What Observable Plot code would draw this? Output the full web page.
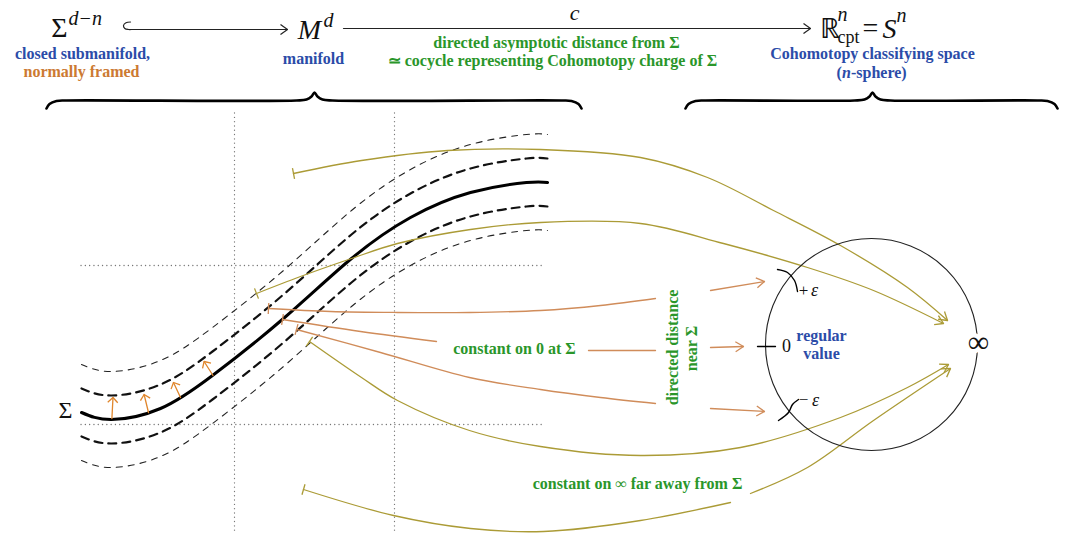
<!DOCTYPE html>
<html><head><meta charset="utf-8">
<script src="https://cdn.jsdelivr.net/npm/d3@7"></script>
<script src="https://cdn.jsdelivr.net/npm/@observablehq/plot@0.6"></script>
<style>body{margin:0;background:#fff;overflow:hidden}</style>
</head><body><div id="chart"></div>
<script>
// ---- diagram data (diagram units = pixels of the 1072x534 canvas) ----
const sigmaCurve = [[81,412],[111,419],[160,408],[212,375],[283,318],[351,258],[410,217],[470,192],[526,182],[547,182]];
const thickOffsets = [-24, 24];
const thinOffsets = [-48, 48];
const gridXs = [234, 394];
const gridYs = [265, 424];
const gridXSpan = [81, 544];
const gridYSpan = [113, 534];
const normalArrows = [[[111.4,418],[112.5,397]],[[148,412],[143.6,394]],[[180,397],[173,382]],[[212.5,375],[203.6,361]]];
const oliveCurves = [
  [[293,173],[361,160],[447,150],[540,149],[640,157],[707,177],[773,210],[840,245],[907,287],[947,320]],
  [[256,293],[300,276],[351,258],[397,243],[470,229],[540,222],[640,223],[723,243],[807,267],[873,290],[943,323]],
  [[309,341],[361,377],[397,400],[469,430],[540,446],[640,455],[740,447],[840,417],[907,387],[948,364]]
];
const oliveFarStart = [[303,489],[393,515],[470,528],[543,531],[640,520],[730,502]];
const oliveFarEnd = [[750,493],[807,467],[873,420],[950,368]];
const orangeIn = [
  [[268,308],[330,311],[397,312],[469,312],[540,310],[600,305],[655,298]],
  [[282,319],[360,331],[436,341]],
  [[296,329],[380,352],[469,377],[540,389],[600,397],[655,403]]
];
const orangeMid = [[588,350],[655,350]];
const orangeOut = [[[710,290],[764,281]],[[710,347],[743,346]],[[710,408],[764,411]]];
const circleCenter = [871,344];
const zeroTick = [[757,346],[775,346]];
const plusArc = [[777,269],[787,272],[794,280],[797,291]];
const minusArc = [[798,399],[792,404],[788,412],[778,420]];
const hook = [[130,21.5],[125.5,22.3],[123,25],[124.3,28],[128,29],[131,29]];
const headerArrows = [[[131,29],[287,29]],[[343,28],[810,28]]];
const braces = [
  [[46,108],[49,103.5],[56,100.5],[66,100],[296,100],[306,99],[311,96],[314,92],[317,96],[322,99],[332,100],[561,100],[571,100.5],[578,103.5],[581,108]],
  [[685,108],[688,103.5],[695,100.5],[705,100],[854,100],[864,99],[869,96],[872,92],[875,96],[880,99],[890,100],[1037,100],[1047,100.5],[1054,103.5],[1057,108]]
];
// ---- text ----
const mathUpright = [{text:"Σ",x:59,y:36},{text:"ℝ",x:829,y:37},{text:"=",x:870,y:36}];
const mathItalic = [{text:"M",x:309,y:38},{text:"S",x:889,y:37}];
const mathSmallItalic = [{text:"c",x:574,y:19}];
const mathSup = [{text:"d−n",x:68,y:24},{text:"d",x:323,y:26},{text:"n",x:837,y:20},{text:"n",x:896,y:21}];
const mathSub = [{text:"cpt",x:837,y:42}];
const blueLabels = [
  {text:"closed submanifold,",x:82,y:53},
  {text:"manifold",x:313,y:58},
  {text:"Cohomotopy classifying space",x:872,y:53},
  {text:"regular",x:821,y:335},
  {text:"value",x:821,y:353}
];
const blueSphereParts = [{text:"(",x:836,y:72,it:false},{text:"n",x:841.5,y:72,it:true},{text:"-sphere)",x:850.5,y:72,it:false}];
const orangeLabels = [{text:"normally framed",x:81,y:71}];
const greenLabels = [
  {text:"directed asymptotic distance from Σ",x:556,y:42},
  {text:"≃ cocycle representing Cohomotopy charge of Σ",x:552,y:60},
  {text:"constant on 0 at Σ",x:514,y:348},
  {text:"constant on ∞ far away from Σ",x:637,y:483}
];
const greenRotated = [{text:"directed distance",x:672,y:347},{text:"near Σ",x:691,y:348}];
const blackMath = [{text:"Σ",x:65,y:410,size:24},{text:"0",x:786,y:346,size:18},{text:"+",x:803,y:290,size:17},{text:"−",x:803,y:399,size:17}];
const epsLabels = [{text:"ε",x:814,y:290},{text:"ε",x:815,y:400}];
const infinity = [{text:"∞",x:978,y:342}];

// ---- helpers (geometry of heads/tails from the curve ends) ----
function heads(list, L, W) {
  const out = [];
  for (const c of list) {
    const [ax, ay] = c[c.length-2], [bx, by] = c[c.length-1];
    const n = Math.hypot(bx-ax, by-ay), ux = (bx-ax)/n, uy = (by-ay)/n;
    out.push({x1:bx,y1:by,x2:bx-L*ux+W*uy,y2:by-L*uy-W*ux});
    out.push({x1:bx,y1:by,x2:bx-L*ux-W*uy,y2:by-L*uy+W*ux});
  }
  return out;
}
function tails(list, W) {
  const out = [];
  for (const c of list) {
    const [ax, ay] = c[0], [bx, by] = c[1];
    const n = Math.hypot(bx-ax, by-ay), ux = (bx-ax)/n, uy = (by-ay)/n;
    out.push({x1:ax+W*uy,y1:ay-W*ux,x2:ax-W*uy,y2:ay+W*ux});
  }
  return out;
}
const X = d => d[0], Y = d => d[1];
const OLIVE = "#ab9b36", ORANGE = "#d08c5a", ORANGE2 = "#e0862c", GREEN = "#2a962a", BLUE = "#2b4ca8", SERIF = "Liberation Serif, Times New Roman, serif";
const LINK = {x1:"x1",y1:"y1",x2:"x2",y2:"y2"};

const marks = [];
// grid
marks.push(Plot.ruleX(gridXs.map(x => ({x, y1:gridYSpan[0], y2:gridYSpan[1]})), {x:"x", y1:"y1", y2:"y2", stroke:"#777", strokeWidth:1.3, strokeDasharray:"0.1,4.2", strokeLinecap:"round"}));
marks.push(Plot.ruleY(gridYs.map(y => ({y, x1:gridXSpan[0], x2:gridXSpan[1]})), {y:"y", x1:"x1", x2:"x2", stroke:"#777", strokeWidth:1.3, strokeDasharray:"0.1,4.2", strokeLinecap:"round"}));
// bands
for (const o of thinOffsets) marks.push(Plot.line(sigmaCurve.map(([x,y]) => [x, y+o]), {x:X, y:Y, curve:"natural", stroke:"#222", strokeWidth:1.1, strokeDasharray:"6,6"}));
for (const o of thickOffsets) marks.push(Plot.line(sigmaCurve.map(([x,y]) => [x, y+o]), {x:X, y:Y, curve:"natural", stroke:"#111", strokeWidth:2.2, strokeDasharray:"8,6"}));
marks.push(Plot.line(sigmaCurve, {x:X, y:Y, curve:"natural", stroke:"#000", strokeWidth:3}));
// normal arrows
for (const a of normalArrows) marks.push(Plot.line(a, {x:X, y:Y, stroke:ORANGE2, strokeWidth:1.3}));
marks.push(Plot.link(heads(normalArrows, 5, 5), {...LINK, stroke:ORANGE2, strokeWidth:1.3}));
// olive curves
for (const c of [...oliveCurves, oliveFarStart, oliveFarEnd]) marks.push(Plot.line(c, {x:X, y:Y, curve:"catmull-rom", stroke:OLIVE, strokeWidth:1.3}));
marks.push(Plot.link(tails([...oliveCurves, oliveFarStart], 5.5), {...LINK, stroke:OLIVE, strokeWidth:1.3}));
marks.push(Plot.link(heads([...oliveCurves, oliveFarEnd], 8, 5), {...LINK, stroke:OLIVE, strokeWidth:1.3}));
// orange curves
for (const c of [...orangeIn, orangeMid, ...orangeOut]) marks.push(Plot.line(c, {x:X, y:Y, curve:"catmull-rom", stroke:ORANGE, strokeWidth:1.3}));
marks.push(Plot.link(tails(orangeIn, 5.5), {...LINK, stroke:ORANGE, strokeWidth:1.3}));
marks.push(Plot.link(heads(orangeOut, 8, 5), {...LINK, stroke:ORANGE, strokeWidth:1.3}));
// circle
marks.push(Plot.dot([circleCenter], {x:X, y:Y, r:106, fill:"none", stroke:"#222", strokeWidth:1.1}));
marks.push(Plot.text(infinity, {x:"x", y:"y", text:"text", fontSize:30, fontFamily:SERIF, fill:"white", stroke:"white", strokeWidth:9}));
marks.push(Plot.line(zeroTick, {x:X, y:Y, stroke:"#000", strokeWidth:1.3}));
marks.push(Plot.line(plusArc, {x:X, y:Y, curve:"catmull-rom", stroke:"#000", strokeWidth:1.4}));
marks.push(Plot.line(minusArc, {x:X, y:Y, curve:"catmull-rom", stroke:"#000", strokeWidth:1.4}));
// header arrows and braces
marks.push(Plot.line(hook, {x:X, y:Y, curve:"catmull-rom", stroke:"#222", strokeWidth:1.2}));
for (const a of headerArrows) marks.push(Plot.line(a, {x:X, y:Y, stroke:"#222", strokeWidth:1.2}));
marks.push(Plot.link(heads(headerArrows, 7, 5), {...LINK, stroke:"#222", strokeWidth:1.2}));
for (const b of braces) marks.push(Plot.line(b, {x:X, y:Y, curve:"catmull-rom", stroke:"#000", strokeWidth:2.6}));
// texts
marks.push(Plot.text(mathUpright, {x:"x", y:"y", text:"text", fontSize:28, fontFamily:SERIF, lineAnchor:"bottom", fill:"#111"}));
marks.push(Plot.text(mathItalic, {x:"x", y:"y", text:"text", fontSize:28, fontStyle:"italic", fontFamily:SERIF, lineAnchor:"bottom", fill:"#111"}));
marks.push(Plot.text(mathSmallItalic, {x:"x", y:"y", text:"text", fontSize:22, fontStyle:"italic", fontFamily:SERIF, lineAnchor:"bottom", fill:"#111"}));
marks.push(Plot.text(mathSup, {x:"x", y:"y", text:"text", fontSize:20, fontStyle:"italic", fontFamily:SERIF, lineAnchor:"bottom", textAnchor:"start", fill:"#111"}));
marks.push(Plot.text(mathSub, {x:"x", y:"y", text:"text", fontSize:18, fontFamily:SERIF, lineAnchor:"bottom", textAnchor:"start", fill:"#111"}));
marks.push(Plot.text(blueLabels, {x:"x", y:"y", text:"text", fontSize:16, fontWeight:"bold", fontFamily:SERIF, fill:BLUE}));
marks.push(Plot.text(blueSphereParts.filter(d=>!d.it), {x:"x", y:"y", text:"text", fontSize:16, fontWeight:"bold", fontFamily:SERIF, textAnchor:"start", fill:BLUE}));
marks.push(Plot.text(blueSphereParts.filter(d=>d.it), {x:"x", y:"y", text:"text", fontSize:16, fontWeight:"bold", fontStyle:"italic", fontFamily:SERIF, textAnchor:"start", fill:BLUE}));
marks.push(Plot.text(orangeLabels, {x:"x", y:"y", text:"text", fontSize:16, fontWeight:"bold", fontFamily:SERIF, fill:"#cc7a33"}));
marks.push(Plot.text(greenLabels, {x:"x", y:"y", text:"text", fontSize:16, fontWeight:"bold", fontFamily:SERIF, fill:GREEN}));
marks.push(Plot.text(greenRotated, {x:"x", y:"y", text:"text", fontSize:16, fontWeight:"bold", fontFamily:SERIF, fill:GREEN, rotate:-90}));
marks.push(Plot.text(blackMath, {x:"x", y:"y", text:"text", fontSize:d=>d.size, fontFamily:SERIF, fill:"#111"}));
marks.push(Plot.text(epsLabels, {x:"x", y:"y", text:"text", fontSize:18, fontStyle:"italic", fontFamily:SERIF, fill:"#111"}));
marks.push(Plot.text(infinity, {x:"x", y:"y", text:"text", fontSize:30, fontFamily:SERIF, fill:"#111"}));

const chart = Plot.plot({
  width:1072, height:534, margin:0,
  x:{domain:[0,1072], range:[0,1072], axis:null},
  y:{domain:[0,534], range:[0,534], axis:null},
  style:{background:"white"},
  marks
});
document.getElementById("chart").appendChild(chart);
</script>
</body></html>
